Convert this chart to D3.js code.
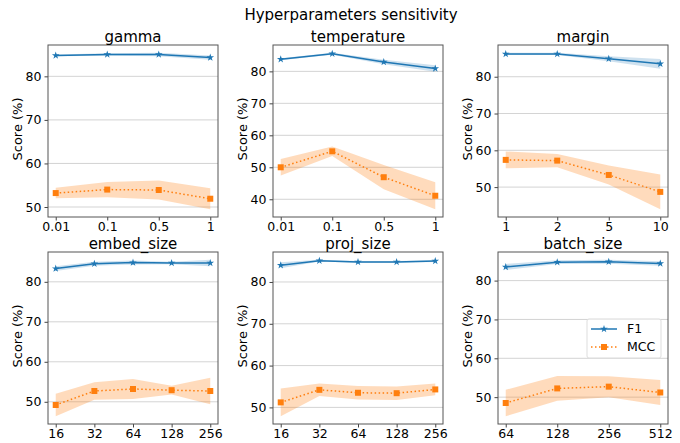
<!DOCTYPE html>
<html>
<head>
<meta charset="utf-8">
<script src="https://cdn.jsdelivr.net/npm/d3@7"></script>
<style>
  body { margin: 0; background: #fff; }
  svg { font-family: "DejaVu Sans", sans-serif; }
</style>
</head>
<body>
<svg id="chart" width="680" height="443"></svg>
<script>
// values (mean, +/- band half width)
const gammaLabels = ["0.01", "0.1", "0.5", "1"];
const gammaF1 = [84.8, 85.0, 85.0, 84.3];
const gammaF1Err = [0.2, 0.3, 0.4, 0.5];
const gammaMCC = [53.2, 54.0, 53.9, 51.9];
const gammaMCCErr = [1.2, 1.75, 2.2, 2.4];

const tempLabels = ["0.01", "0.1", "0.5", "1"];
const tempF1 = [83.8, 85.5, 82.9, 80.9];
const tempF1Err = [0.3, 0.3, 0.7, 1.0];
const tempMCC = [50.0, 55.0, 46.9, 41.1];
const tempMCCErr = [2.6, 1.5, 3.8, 4.2];

const marginLabels = ["1", "2", "5", "10"];
const marginF1 = [86.2, 86.2, 84.9, 83.5];
const marginF1Err = [0.3, 0.3, 0.7, 1.35];
const marginMCC = [57.4, 57.2, 53.3, 48.7];
const marginMCCErr = [2.3, 1.8, 2.6, 4.7];

const embedLabels = ["16", "32", "64", "128", "256"];
const embedF1 = [83.3, 84.5, 84.8, 84.7, 84.7];
const embedF1Err = [0.6, 0.5, 0.5, 0.3, 0.8];
const embedMCC = [49.2, 52.7, 53.2, 52.9, 52.7];
const embedMCCErr = [2.8, 2.2, 2.5, 1.1, 3.3];

const projLabels = ["16", "32", "64", "128", "256"];
const projF1 = [84.0, 85.1, 84.8, 84.8, 85.0];
const projF1Err = [0.7, 0.2, 0.2, 0.2, 0.2];
const projMCC = [51.2, 54.2, 53.5, 53.4, 54.3];
const projMCCErr = [3.3, 1.5, 1.6, 1.6, 1.4];

const batchLabels = ["64", "128", "256", "512"];
const batchF1 = [83.5, 84.75, 84.85, 84.4];
const batchF1Err = [0.8, 0.5, 0.5, 0.6];
const batchMCC = [48.5, 52.25, 52.7, 51.2];
const batchMCCErr = [3.4, 3.2, 2.7, 3.2];

const panelNames = ["gamma", "temperature", "margin", "embed_size", "proj_size", "batch_size"];
const seriesNames = ["F1", "MCC"];

const panels = [
  [gammaLabels, gammaF1, gammaF1Err, gammaMCC, gammaMCCErr],
  [tempLabels, tempF1, tempF1Err, tempMCC, tempMCCErr],
  [marginLabels, marginF1, marginF1Err, marginMCC, marginMCCErr],
  [embedLabels, embedF1, embedF1Err, embedMCC, embedMCCErr],
  [projLabels, projF1, projF1Err, projMCC, projMCCErr],
  [batchLabels, batchF1, batchF1Err, batchMCC, batchMCCErr]
].map((p, i) => ({name: panelNames[i], labels: p[0], f1: p[1], f1Err: p[2], mcc: p[3], mccErr: p[4]}));

const svg = d3.select("#chart");
const colF1 = "#1f77b4", colMCC = "#ff7f0e";
const lefts = [48, 273, 498], tops = [45, 252];
const w = 170, h = 172;

svg.append("text")
    .attr("x", 351).attr("y", 20)
    .attr("text-anchor", "middle")
    .attr("font-size", 15)
    .text("Hyperparameters sensitivity");

panels.forEach((p, i) => {
  const x0 = lefts[i % 3], y0 = tops[Math.floor(i / 3)];
  const g = svg.append("g").attr("transform", `translate(${x0},${y0})`);
  const n = p.labels.length;

  const lo = d3.min(p.mcc.map((v, j) => v - p.mccErr[j]));
  const hi = d3.max(p.f1.map((v, j) => v + p.f1Err[j]));
  const pad = (hi - lo) * 0.05;

  const x = d3.scaleLinear().domain([-0.05 * (n - 1), (n - 1) * 1.05]).range([0, w]);
  const y = d3.scaleLinear().domain([lo - pad, hi + pad]).range([h, 0]);
  const yTicks = d3.range(Math.ceil((lo - pad) / 10) * 10, hi + pad, 10);

  // grid
  g.append("g").selectAll("line").data(yTicks).join("line")
      .attr("x1", 0).attr("x2", w)
      .attr("y1", d => y(d)).attr("y2", d => y(d))
      .attr("stroke", "#c8c8c8").attr("stroke-width", 0.8);

  const series = [
    {vals: p.f1, err: p.f1Err, color: colF1, dash: null, sym: d3.symbolStar, size: 18, op: 0.22},
    {vals: p.mcc, err: p.mccErr, color: colMCC, dash: "1.5,2.5", sym: d3.symbolSquare, size: 36, op: 0.28}
  ];

  series.forEach(s => {
    const idx = d3.range(n);
    g.append("path")
        .attr("d", d3.area().x(j => x(j)).y0(j => y(s.vals[j] - s.err[j])).y1(j => y(s.vals[j] + s.err[j]))(idx))
        .attr("fill", s.color).attr("fill-opacity", s.op);
    g.append("path")
        .attr("d", d3.line().x(j => x(j)).y(j => y(s.vals[j]))(idx))
        .attr("fill", "none").attr("stroke", s.color).attr("stroke-width", 1.5)
        .attr("stroke-dasharray", s.dash);
    g.append("g").selectAll("path").data(idx).join("path")
        .attr("transform", j => `translate(${x(j)},${y(s.vals[j])})`)
        .attr("d", d3.symbol(s.sym, s.size))
        .attr("fill", s.color);
  });

  // axes
  const ax = g.append("g").attr("transform", `translate(0,${h})`)
      .call(d3.axisBottom(x).tickValues(d3.range(n)).tickFormat(j => p.labels[j]).tickSize(3.5).tickPadding(2));
  const ay = g.append("g")
      .call(d3.axisLeft(y).tickValues(yTicks).tickFormat(d3.format("d")).tickSize(3.5).tickPadding(3));
  [ax, ay].forEach(a => {
    a.select(".domain").remove();
    a.selectAll("text").attr("font-size", 12.5).attr("font-family", "DejaVu Sans").attr("fill", "#000");
    a.selectAll("line").attr("stroke", "#444");
  });

  g.append("rect").attr("width", w).attr("height", h)
      .attr("fill", "none").attr("stroke", "#555").attr("stroke-width", 1);

  g.append("text")
      .attr("x", w / 2).attr("y", -3.5)
      .attr("text-anchor", "middle").attr("font-size", 15)
      .text(p.name);

  g.append("text")
      .attr("transform", `translate(-31,${h / 2 - 2}) rotate(-90)`)
      .attr("text-anchor", "middle").attr("dy", "0.35em").attr("font-size", 13)
      .text("Score (%)");

  if (i === 5) {
    const lg = g.append("g").attr("transform", `translate(${w - 81},${67})`);
    lg.append("rect").attr("width", 74).attr("height", 39).attr("rx", 2)
        .attr("fill", "#fff").attr("fill-opacity", 0.8).attr("stroke", "#ddd");
    series.forEach((s, k) => {
      const ly = 10 + k * 18;
      lg.append("line").attr("x1", 4).attr("x2", 30).attr("y1", ly).attr("y2", ly)
          .attr("stroke", s.color).attr("stroke-width", 1.5).attr("stroke-dasharray", s.dash);
      lg.append("path").attr("transform", `translate(17,${ly})`)
          .attr("d", d3.symbol(s.sym, s.size)).attr("fill", s.color);
      lg.append("text").attr("x", 40).attr("y", ly).attr("dy", "0.35em")
          .attr("font-size", 12.5).text(seriesNames[k]);
    });
  }
});
</script>
</body>
</html>
